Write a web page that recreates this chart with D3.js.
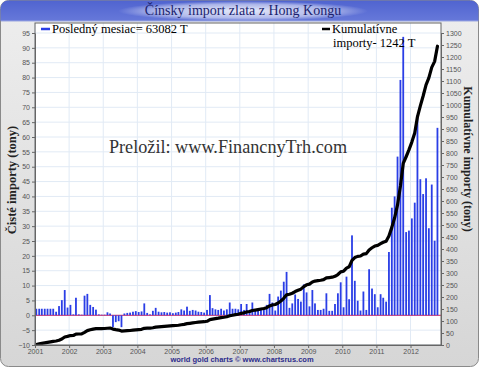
<!DOCTYPE html>
<html><head><meta charset="utf-8">
<script src="https://cdn.jsdelivr.net/npm/d3@7"></script>
<style>body{margin:0;background:#fff}svg{display:block}</style>
</head><body><svg id="c" width="480" height="368"></svg>
<script>
const years = ["2001","2002","2003","2004","2005","2006","2007","2008","2009","2010","2011","2012"];
const imports2001 = [2.2,2.2,2.2,2.2,2.2,2.2,2.2,1.2,3.1,5.1,8.5,2.6];
const imports2002 = [3.5,0.3,5.9,0.3,0.2,6.6,7.2,3.5,2.8,1.9,0.3,0.2];
const imports2003 = [0.2,1.0,0.6,-4.0,-2.3,-2.0,-4.0,0.6,0.8,0.9,1.2,1.4];
const imports2004 = [1.1,1.3,4.0,0.8,0.3,1.5,2.5,1.2,1.0,1.1,0.9,1.0];
const imports2005 = [0.7,0.9,1.1,2.0,1.6,2.9,1.5,1.8,1.6,1.2,1.1,0.9];
const imports2006 = [1.8,6.8,2.4,2.0,1.8,2.2,1.6,2.0,4.3,2.2,2.2,2.0];
const imports2007 = [3.8,1.8,3.8,1.8,4.3,1.8,2.0,2.2,2.2,3.5,7.2,4.3];
const imports2008 = [1.6,6.3,8.3,11.3,14.6,2.5,4.0,7.0,5.5,4.6,10.4,7.7];
const imports2009 = [3.0,8.5,4.0,1.8,1.8,2.2,7.4,1.5,1.5,3.8,7.4,11.1];
const imports2010 = [2.7,13.0,5.4,26.9,11.6,4.9,1.6,8.0,1.8,15.5,9.0,7.1];
const imports2011 = [2.7,7.1,5.9,4.6,21.3,36.2,40.0,53.4,79.2,93.7,28.0,28.5];
const imports2012 = [32.6,37.9,67.4,45.8,40.8,46.1,29.3,44.0,25.1,63.082];
const leftTicks = [-10,-5,0,5,10,15,20,25,30,35,40,45,50,55,60,65,70,75,80,85,90,95];
const rightTicks = [0,50,100,150,200,250,300,350,400,450,500,550,600,650,700,750,800,850,900,950,1000,1050,1100,1150,1200,1250,1300];
const titleText = "Čínsky import zlata z Hong Kongu";
const legendBars = "Posledný mesiac= 63082 T";
const legendLine1 = "Kumulatívne";
const legendLine2 = "importy- 1242 T";
const leftTitle = "Čisté importy (tony)";
const rightTitle = "Kumulatívne importy (tony)";
const watermark = "Preložil: www.FinancnyTrh.com";
const credit = "world gold charts © www.chartsrus.com";

const monthly = [].concat(imports2001,imports2002,imports2003,imports2004,imports2005,imports2006,
  imports2007,imports2008,imports2009,imports2010,imports2011,imports2012);
const cum = d3.cumsum(monthly);
const data = monthly.map((v,i)=>({date:new Date(Date.UTC(2001,i,15)), v, cum:cum[i]}));

const svg = d3.select("#c");
const defs = svg.append("defs");
const bg = defs.append("linearGradient").attr("id","bg").attr("x1",0).attr("y1",0).attr("x2",0).attr("y2",1);
bg.append("stop").attr("offset","0").attr("stop-color","#eeeeee");
bg.append("stop").attr("offset","1").attr("stop-color","#d6d6d6");
const tb = defs.append("linearGradient").attr("id","tb").attr("x1",0).attr("y1",0).attr("x2",0).attr("y2",1);
tb.append("stop").attr("offset","0").attr("stop-color","#5064d0");
tb.append("stop").attr("offset","1").attr("stop-color","#7c8ce2");
const gl = defs.append("radialGradient").attr("id","gl");
gl.append("stop").attr("offset","0").attr("stop-color","#ffffff").attr("stop-opacity",0.85);
gl.append("stop").attr("offset","0.7").attr("stop-color","#ffffff").attr("stop-opacity",0.5);
gl.append("stop").attr("offset","1").attr("stop-color","#ffffff").attr("stop-opacity",0);
defs.append("clipPath").attr("id","top").append("rect").attr("x",0).attr("y",0).attr("width",480).attr("height",21);

// frame
svg.append("rect").attr("x",0.5).attr("y",0.5).attr("width",478).attr("height",366).attr("rx",8)
  .attr("fill","url(#bg)").attr("stroke","#8a8a8a");
svg.append("rect").attr("x",0.5).attr("y",0.5).attr("width",478).attr("height",40).attr("rx",8)
  .attr("fill","url(#tb)").attr("clip-path","url(#top)");
svg.append("line").attr("x1",1).attr("x2",478).attr("y1",21).attr("y2",21).attr("stroke","#9aa6e0");
svg.append("ellipse").attr("cx",243).attr("cy",11).attr("rx",125).attr("ry",10).attr("fill","url(#gl)");
svg.append("text").attr("x",243).attr("y",15).attr("text-anchor","middle")
  .attr("font-family","Liberation Serif, serif").attr("font-size",14).attr("fill","#1b1f6e").text(titleText);

const L=35,R=441,T=23,B=345;
const x = d3.scaleUtc().domain([new Date(Date.UTC(2001,0,1)), new Date(Date.UTC(2012,10,22))]).range([L,R]);
const yL = d3.scaleLinear().domain([-10,95]).range([B,33]);
const yR = d3.scaleLinear().domain([0,1300]).range([B,33]);
const yearDates = years.map(y=>new Date(Date.UTC(+y,0,1)));

svg.append("rect").attr("x",L).attr("y",T).attr("width",R-L).attr("height",B-T).attr("fill","#fff");
// grid
svg.append("g").selectAll("line").data(leftTicks).join("line")
  .attr("x1",L).attr("x2",R).attr("y1",d=>yL(d)).attr("y2",d=>yL(d)).attr("stroke","#e1eaf5");
svg.append("g").selectAll("line").data(yearDates).join("line")
  .attr("x1",d=>x(d)).attr("x2",d=>x(d)).attr("y1",T).attr("y2",B).attr("stroke","#e1eaf5");

svg.append("text").attr("x",228).attr("y",153).attr("text-anchor","middle")
  .attr("font-family","Liberation Serif, serif").attr("font-size",18.2).attr("fill","#333").text(watermark);

// zero line
svg.append("line").attr("x1",L).attr("x2",R).attr("y1",yL(0)).attr("y2",yL(0)).attr("stroke","#e0507a").attr("stroke-width",1.2);
// bars
svg.append("g").selectAll("rect").data(data).join("rect")
  .attr("x",d=>x(d.date)-0.9).attr("width",1.8)
  .attr("y",d=>Math.min(yL(d.v),yL(0))).attr("height",d=>Math.abs(yL(d.v)-yL(0)))
  .attr("fill","#2a3ee6");
// cumulative line
svg.append("path").datum(data).attr("fill","none").attr("stroke","#000").attr("stroke-width",3.2)
  .attr("stroke-linejoin","round").attr("stroke-linecap","round")
  .attr("d",d3.line().x(d=>x(d.date)).y(d=>yR(d.cum)));

// frame border of plot
svg.append("rect").attr("x",L).attr("y",T).attr("width",R-L).attr("height",B-T).attr("fill","none").attr("stroke","#666");

function styleAxis(g){
  g.selectAll("text").attr("font-family","Liberation Sans, Arial, sans-serif").attr("font-size",7).attr("fill","#555");
  g.selectAll("line").attr("stroke","#666");
  g.select(".domain").attr("stroke","#666");
}
svg.append("g").attr("transform",`translate(${L},0)`)
  .call(d3.axisLeft(yL).tickValues(leftTicks).tickFormat(d3.format("d")).tickSize(3).tickPadding(2).tickSizeOuter(0)).call(styleAxis);
svg.append("g").attr("transform",`translate(${R},0)`)
  .call(d3.axisRight(yR).tickValues(rightTicks).tickFormat(d3.format("d")).tickSize(3).tickPadding(2).tickSizeOuter(0)).call(styleAxis);
svg.append("g").attr("transform",`translate(0,${B})`)
  .call(d3.axisBottom(x).tickValues(yearDates).tickFormat((d,i)=>years[i]).tickSize(3).tickPadding(1).tickSizeOuter(0)).call(styleAxis);

// legends
svg.append("line").attr("x1",41).attr("x2",50).attr("y1",29).attr("y2",29).attr("stroke","#2a3ee6").attr("stroke-width",2.5);
svg.append("text").attr("x",52).attr("y",33).attr("font-family","Liberation Serif, serif").attr("font-size",12.5).attr("fill","#000").text(legendBars);
svg.append("line").attr("x1",322).attr("x2",330).attr("y1",29).attr("y2",29).attr("stroke","#000").attr("stroke-width",2.5);
svg.append("text").attr("x",332).attr("y",33).attr("font-family","Liberation Serif, serif").attr("font-size",12.5).attr("fill","#000").text(legendLine1);
svg.append("text").attr("x",333).attr("y",47).attr("font-family","Liberation Serif, serif").attr("font-size",12.5).attr("fill","#000").text(legendLine2);

// axis titles
svg.append("text").attr("transform","translate(16,180) rotate(-90)").attr("text-anchor","middle")
  .attr("font-family","Liberation Serif, serif").attr("font-weight","bold").attr("font-size",12.5).attr("fill","#222").text(leftTitle);
svg.append("text").attr("transform","translate(464,159) rotate(90)").attr("text-anchor","middle")
  .attr("font-family","Liberation Serif, serif").attr("font-weight","bold").attr("font-size",12).attr("fill","#222").text(rightTitle);

svg.append("text").attr("x",242).attr("y",362).attr("text-anchor","middle")
  .attr("font-family","Liberation Sans, Arial, sans-serif").attr("font-weight","bold").attr("font-size",7.5).attr("fill","#2c2c8c").text(credit);
</script></body></html>
